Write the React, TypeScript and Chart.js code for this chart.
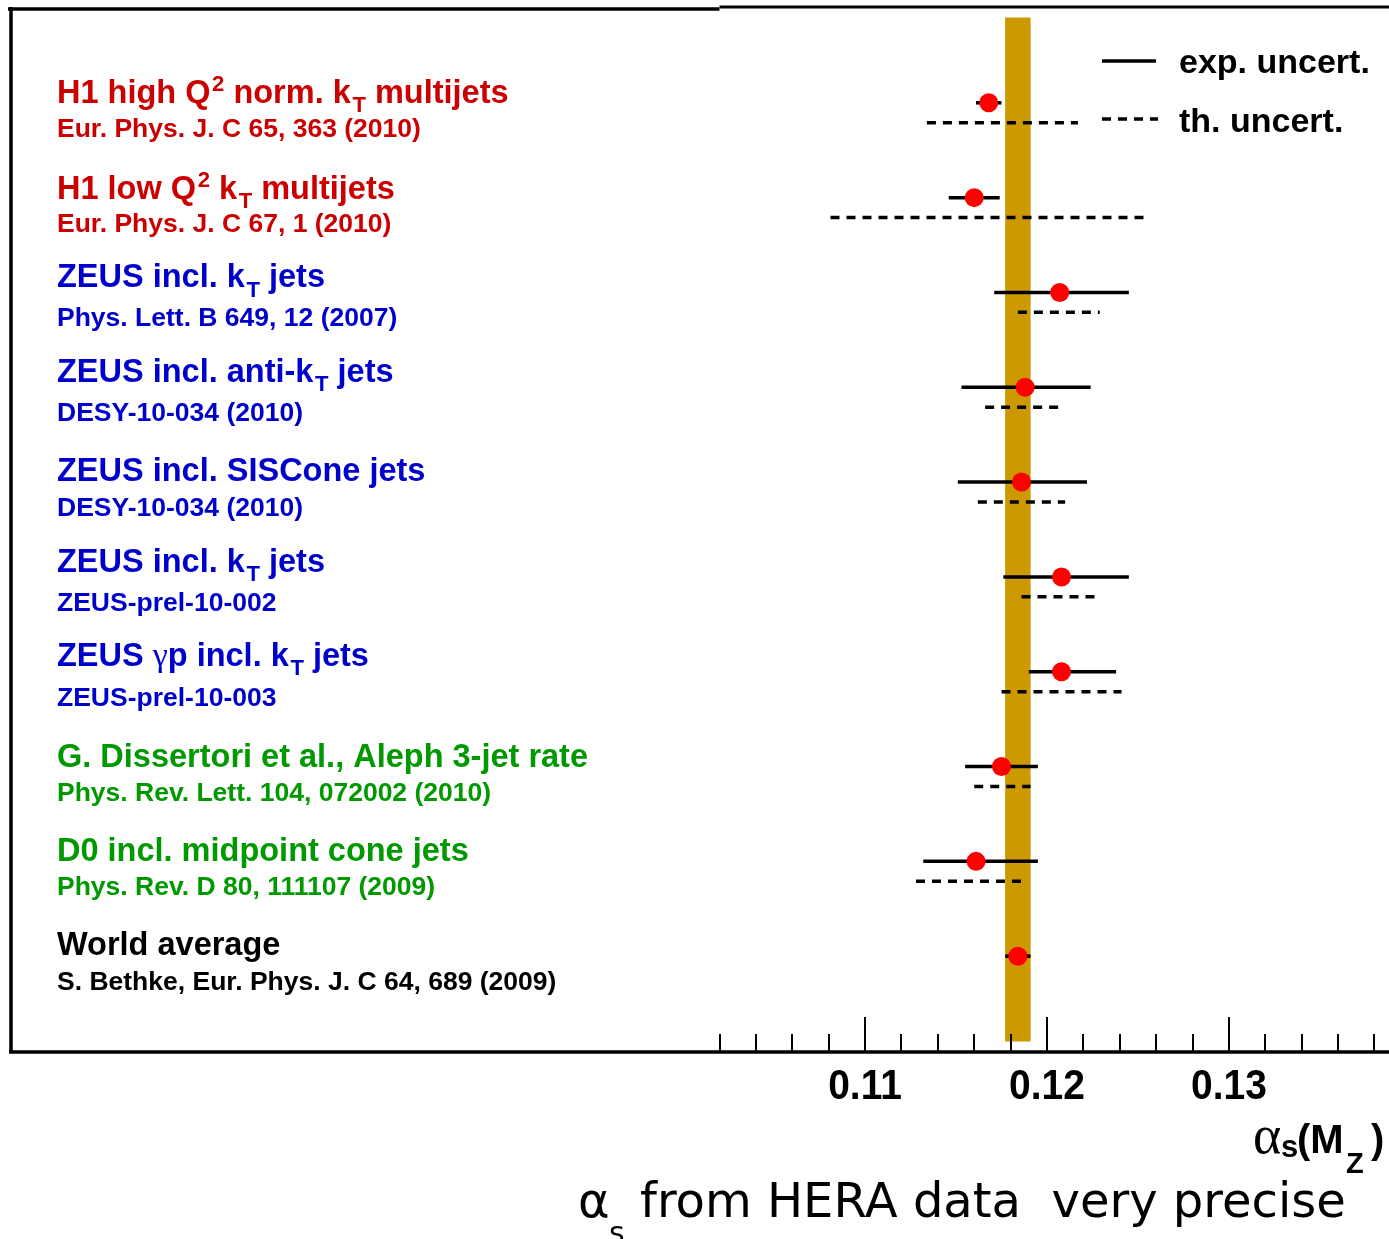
import React, { useEffect, useRef } from "react";
import { Chart, registerables } from "chart.js";

Chart.register(...registerables);

// ---------------- data ----------------
const TITLES = [
  "H1 high Q^{2} norm. k_{T} multijets",
  "H1 low Q^{2} k_{T} multijets",
  "ZEUS incl. k_{T} jets",
  "ZEUS incl. anti-k_{T} jets",
  "ZEUS incl. SISCone jets",
  "ZEUS incl. k_{T} jets",
  "ZEUS ~{γ}p incl. k_{T} jets",
  "G. Dissertori et al., Aleph 3-jet rate",
  "D0 incl. midpoint cone jets",
  "World average",
];
const REFERENCES = [
  "Eur. Phys. J. C 65, 363 (2010)",
  "Eur. Phys. J. C 67, 1 (2010)",
  "Phys. Lett. B 649, 12 (2007)",
  "DESY-10-034 (2010)",
  "DESY-10-034 (2010)",
  "ZEUS-prel-10-002",
  "ZEUS-prel-10-003",
  "Phys. Rev. Lett. 104, 072002 (2010)",
  "Phys. Rev. D 80, 111107 (2009)",
  "S. Bethke, Eur. Phys. J. C 64, 689 (2009)",
];
const GROUP_COLORS = [
  "#cc0000", "#cc0000",
  "#0000cc", "#0000cc", "#0000cc", "#0000cc", "#0000cc",
  "#009900", "#009900",
  "#000000",
];
const ROWS = [1, 2, 3, 4, 5, 6, 7, 8, 9, 10];
const CENTRAL = [0.1168, 0.1160, 0.1207, 0.1188, 0.1186, 0.1208, 0.1208, 0.1175, 0.1161, 0.1184];
const EXP_LOW = [0.1161, 0.1146, 0.1171, 0.1153, 0.1151, 0.1176, 0.1190, 0.1155, 0.1132, 0.1177];
const EXP_HIGH = [0.1175, 0.1174, 0.1245, 0.1224, 0.1222, 0.1245, 0.1238, 0.1195, 0.1195, 0.1191];
const TH_LOW = [0.1134, 0.1081, 0.1184, 0.1166, 0.1162, 0.1186, 0.1175, 0.1160, 0.1128, null];
const TH_HIGH = [0.1217, 0.1254, 0.1229, 0.1210, 0.1210, 0.1230, 0.1241, 0.1191, 0.1186, null];
const WORLD_BAND = [0.1177, 0.1191];
const MAJOR_TICKS = [0.11, 0.12, 0.13];
const TICK_LABELS = ["0.11", "0.12", "0.13"];
const LEGEND_LABELS = ["exp. uncert.", "th. uncert."];

// ---------------- layout (not data) ----------------
const W = 1389;
const H = 1239;
const SANS = '"Liberation Sans", Arial, Helvetica, sans-serif';
const SERIF = '"Liberation Serif", "DejaVu Serif", serif';
const TITLE_DY = [0, 1, -5, -5, -1, -5, -6, 0, 0, -1];
const TH_OFFSET = 0.21;

function drawRich(
  ctx: CanvasRenderingContext2D,
  text: string,
  x: number,
  y: number,
  size: number,
  color: string
) {
  const parts = text.split(/(\^\{[^}]*\}|_\{[^}]*\}|~\{[^}]*\})/).filter((p) => p.length > 0);
  let cx = x;
  ctx.fillStyle = color;
  ctx.textAlign = "left";
  ctx.textBaseline = "alphabetic";
  for (const p of parts) {
    let t = p;
    let font = `bold ${size}px ${SANS}`;
    let dy = 0;
    let pad = 0;
    if (p.startsWith("^{")) {
      t = p.slice(2, -1);
      font = `bold ${size * 0.68}px ${SANS}`;
      dy = -size * 0.36;
      pad = size * 0.05;
    } else if (p.startsWith("_{")) {
      t = p.slice(2, -1);
      font = `bold ${size * 0.68}px ${SANS}`;
      dy = size * 0.28;
      pad = size * 0.05;
    } else if (p.startsWith("~{")) {
      t = p.slice(2, -1);
      font = `${size * 1.05}px ${SERIF}`;
    }
    ctx.font = font;
    ctx.fillText(t, cx + pad, y + dy);
    cx += ctx.measureText(t).width + pad;
  }
}

const overlayPlugin = {
  id: "overlay",
  beforeDatasetsDraw(chart: any) {
    const { ctx, scales } = chart;
    const xs = scales.x;
    const ys = scales.y;
    const x1 = xs.getPixelForValue(WORLD_BAND[0]);
    const x2 = xs.getPixelForValue(WORLD_BAND[1]);
    const y1 = ys.getPixelForValue(0.1);
    const y2 = ys.getPixelForValue(10.9);
    ctx.save();
    ctx.fillStyle = "#cc9900";
    ctx.fillRect(x1, y1, x2 - x1, y2 - y1);
    ctx.restore();
  },
  afterDatasetsDraw(chart: any) {
    const { ctx, scales, chartArea } = chart;
    const xs = scales.x;
    const ys = scales.y;
    const { left, top, bottom, right } = chartArea;
    ctx.save();

    // frame
    ctx.strokeStyle = "#000";
    ctx.lineCap = "butt";
    ctx.lineWidth = 3.5;
    const axisStart = xs.getPixelForValue(0.102);
    ctx.beginPath();
    ctx.moveTo(left - 2, top + 1);
    ctx.lineTo(axisStart, top + 1);
    ctx.stroke();
    ctx.lineWidth = 3;
    ctx.beginPath();
    ctx.moveTo(axisStart, top - 1);
    ctx.lineTo(right, top - 1);
    ctx.stroke();
    ctx.lineWidth = 3.5;
    ctx.beginPath();
    ctx.moveTo(left + 1, top - 1);
    ctx.lineTo(left + 1, bottom + 2);
    ctx.stroke();
    ctx.beginPath();
    ctx.moveTo(left - 1, bottom + 1);
    ctx.lineTo(right, bottom + 1);
    ctx.stroke();

    // axis ticks (inside the frame)
    ctx.lineWidth = 2;
    for (let k = 51; k <= 69; k++) {
      const v = k * 0.002;
      const px = Math.round(xs.getPixelForValue(v));
      const major = k % 5 === 0;
      ctx.beginPath();
      ctx.moveTo(px, bottom);
      ctx.lineTo(px, bottom - (major ? 34 : 17));
      ctx.stroke();
    }
    ctx.fillStyle = "#000";
    ctx.textAlign = "center";
    ctx.textBaseline = "alphabetic";
    MAJOR_TICKS.forEach((v, i) => {
      ctx.save();
      ctx.translate(xs.getPixelForValue(v), 1099);
      ctx.scale(1, 1.08);
      ctx.font = `bold 39px ${SANS}`;
      ctx.fillText(TICK_LABELS[i], 0, 0);
      ctx.restore();
    });

    // axis title  alpha_s(M_Z)
    ctx.textAlign = "left";
    ctx.font = `54px ${SERIF}`;
    ctx.fillText("α", 1253, 1153);
    ctx.font = `bold 31px ${SANS}`;
    ctx.fillText("s", 1281, 1157);
    ctx.font = `bold 40px ${SANS}`;
    ctx.fillText("(M", 1297, 1153);
    ctx.font = `bold 29px ${SANS}`;
    ctx.fillText("Z", 1346, 1173);
    ctx.font = `bold 40px ${SANS}`;
    ctx.fillText(")", 1371, 1153);

    // bottom caption
    ctx.font = `48px "DejaVu Sans", sans-serif`;
    ctx.fillText("α", 578, 1217);
    ctx.font = `30px "DejaVu Sans", sans-serif`;
    ctx.fillText("s", 609, 1243);
    ctx.font = `48px "DejaVu Sans", sans-serif`;
    ctx.fillText("from HERA data  very precise", 640, 1217);

    // legend
    ctx.lineWidth = 3.5;
    ctx.beginPath();
    ctx.moveTo(1102, 61);
    ctx.lineTo(1156, 61);
    ctx.stroke();
    ctx.setLineDash([9, 7]);
    ctx.beginPath();
    ctx.moveTo(1102, 119);
    ctx.lineTo(1158, 119);
    ctx.stroke();
    ctx.setLineDash([]);
    ctx.font = `bold 34px ${SANS}`;
    ctx.fillStyle = "#000";
    ctx.fillText(LEGEND_LABELS[0], 1179, 73);
    ctx.fillText(LEGEND_LABELS[1], 1179, 132);

    // row labels
    ROWS.forEach((r, i) => {
      const py = ys.getPixelForValue(r);
      drawRich(ctx, TITLES[i], 57, py + TITLE_DY[i], 32.5, GROUP_COLORS[i]);
      ctx.font = `bold 26.5px ${SANS}`;
      ctx.fillStyle = GROUP_COLORS[i];
      ctx.textAlign = "left";
      ctx.fillText(REFERENCES[i], 57, py + 34);
    });

    ctx.restore();
  },
};

export default function App() {
  const canvasRef = useRef<HTMLCanvasElement | null>(null);

  useEffect(() => {
    const canvas = canvasRef.current;
    if (!canvas) return;

    const datasets: any[] = [];
    datasets.push({
      type: "scatter",
      label: "central",
      data: ROWS.map((r, i) => ({ x: CENTRAL[i], y: r })),
      pointRadius: 9.5,
      pointHoverRadius: 9.5,
      backgroundColor: "#ff0000",
      borderWidth: 0,
      order: 0,
    });
    ROWS.forEach((r, i) => {
      datasets.push({
        type: "line",
        label: "exp" + i,
        data: [
          { x: EXP_LOW[i], y: r },
          { x: EXP_HIGH[i], y: r },
        ],
        borderColor: "#000",
        borderWidth: 3.5,
        pointRadius: 0,
        fill: false,
        order: 1,
      });
      if (TH_LOW[i] !== null && TH_HIGH[i] !== null) {
        datasets.push({
          type: "line",
          label: "th" + i,
          data: [
            { x: TH_LOW[i], y: r + TH_OFFSET },
            { x: TH_HIGH[i], y: r + TH_OFFSET },
          ],
          borderColor: "#000",
          borderWidth: 3.5,
          borderDash: [9, 7],
          pointRadius: 0,
          fill: false,
          order: 1,
        });
      }
    });

    const chart = new Chart(canvas, {
      type: "scatter",
      data: { datasets },
      options: {
        responsive: false,
        animation: false,
        devicePixelRatio: 1,
        layout: { autoPadding: false, padding: { left: 10, right: 0, top: 8, bottom: H - 1051 } },
        plugins: { legend: { display: false }, tooltip: { enabled: false } },
        events: [],
        scales: {
          x: { type: "linear", min: 0.063, max: 0.1388, display: false },
          y: { type: "linear", min: 0, max: 11, reverse: true, display: false },
        },
      },
      plugins: [overlayPlugin],
    } as any);

    return () => chart.destroy();
  }, []);

  return (
    <div style={{ position: "absolute", left: 0, top: 0, width: W, height: H, background: "#fff" }}>
      <canvas ref={canvasRef} width={W} height={H} style={{ display: "block", width: W, height: H }} />
    </div>
  );
}
